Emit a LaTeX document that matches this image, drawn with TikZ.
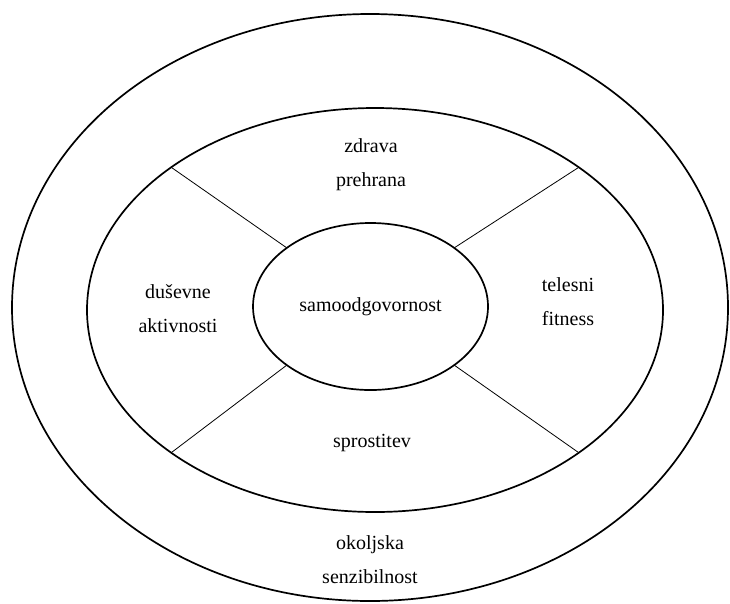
\documentclass[tikz,border=0pt]{standalone}
\usepackage{fontspec}
\setmainfont{Liberation Serif}
\usetikzlibrary{shapes.geometric}
\begin{document}
\begin{tikzpicture}[x=1pt,y=-1pt,
    ring/.style={draw,ellipse,line width=1.7pt,inner sep=0pt,outer sep=0pt},
    lbl/.style={align=center,font=\fontsize{20}{34}\selectfont}]
      \useasboundingbox (0,0) rectangle (730,603);
      \draw
        (370,307.5) node[ring,minimum width=716,minimum height=587] (outer){}
        (375,310) node[ring,minimum width=576,minimum height=404] (middle){}
        (370.5,306.5) node[ring,lbl,minimum width=235,minimum height=167] (self){samoodgovornost};
      \draw
        (371,165) node[lbl] (food){zdrava\\prehrana}
        (178,309) node[lbl] (mind){duševne\\aktivnosti}
        (568,301.5) node[lbl] (body){telesni\\fitness}
        (372,443) node[lbl] (rest){sprostitev}
        (370,560) node[lbl] (env){okoljska\\senzibilnost};
      \begin{scope}[-,line width=0.8pt]
        \draw (self.145) to (middle.145);
        \draw (self.35) to (middle.35);
        \draw (self.215) to (middle.215);
        \draw (self.325) to (middle.325);
      \end{scope}
    \end{tikzpicture}
\end{document}
